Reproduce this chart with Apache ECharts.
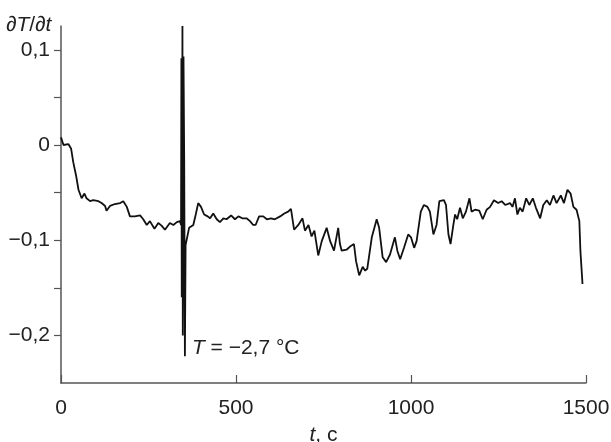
<!DOCTYPE html>
<html>
<head>
<meta charset="utf-8">
<script src="https://cdn.jsdelivr.net/npm/echarts@6/dist/echarts.min.js"></script>
<style>
html, body {margin: 0; padding: 0; background: #fff;}
#figure0 {width: 611px; height: 442px;}
</style>
</head>
<body>
<div id="figure0"></div>
<script>
// time, s
var tValues = [0, 4, 7, 21, 29, 35, 43, 50, 59, 67, 73, 83, 92, 107, 116, 126, 130, 140, 154, 169, 178, 188, 197, 211, 226, 235, 245, 254, 267, 278, 288, 297, 311, 321, 331, 340, 343,
    344, 345, 347, 348, 350, 352, 354, 356,
    366, 378, 385, 392, 400, 409, 419, 426, 435, 445, 454, 464, 473, 486, 497, 507, 518, 530, 540, 549, 556, 566, 578, 588, 600, 611, 626, 638, 649, 657,
    666, 678, 690, 697, 707, 716, 724, 735, 745, 759, 769, 780, 792, 797, 802, 816, 828, 837, 843, 852, 862, 869, 875, 888, 902, 909, 919, 929, 940, 954, 961, 969, 980, 992, 1000, 1009, 1016, 1028, 1037, 1047, 1054, 1064, 1073, 1081,
    1094, 1100, 1107, 1113, 1121, 1126, 1132, 1140, 1148, 1157, 1167, 1173, 1183, 1195, 1205, 1216, 1226, 1237, 1249, 1259, 1269, 1283, 1290, 1297, 1304, 1311, 1319, 1329, 1338, 1348, 1357, 1369, 1378, 1388, 1397, 1407, 1416, 1428, 1437, 1447, 1456, 1464, 1473, 1481, 1484, 1490];
// dT/dt
var rateValues = [0.008, 0.006, 0.0, 0.001, -0.004, -0.018, -0.032, -0.047, -0.056, -0.051, -0.056, -0.059, -0.058, -0.059, -0.061, -0.064, -0.069, -0.064, -0.062, -0.061, -0.059, -0.065, -0.075, -0.075, -0.074, -0.078, -0.084, -0.080, -0.088, -0.082, -0.085, -0.089, -0.082, -0.084, -0.081, -0.080, -0.084,
    0.091, -0.160, 0.125, -0.200, 0.093, -0.015, -0.222, -0.105,
    -0.087, -0.084, -0.073, -0.061, -0.065, -0.073, -0.075, -0.077, -0.072, -0.078, -0.081, -0.077, -0.078, -0.074, -0.078, -0.075, -0.077, -0.077, -0.080, -0.084, -0.084, -0.075, -0.075, -0.078, -0.077, -0.078, -0.075, -0.072, -0.070, -0.067,
    -0.089, -0.084, -0.077, -0.090, -0.084, -0.096, -0.090, -0.116, -0.101, -0.087, -0.101, -0.111, -0.087, -0.104, -0.111, -0.110, -0.106, -0.104, -0.122, -0.137, -0.128, -0.132, -0.130, -0.097, -0.078, -0.087, -0.118, -0.123, -0.115, -0.097, -0.111, -0.120, -0.108, -0.094, -0.097, -0.108, -0.101, -0.070, -0.063, -0.065, -0.070, -0.094, -0.084, -0.059,
    -0.058, -0.063, -0.094, -0.104, -0.084, -0.073, -0.078, -0.066, -0.077, -0.070, -0.056, -0.070, -0.068, -0.069, -0.078, -0.068, -0.065, -0.058, -0.061, -0.059, -0.063, -0.061, -0.065, -0.056, -0.073, -0.066, -0.070, -0.056, -0.063, -0.056, -0.066, -0.077, -0.063, -0.058, -0.063, -0.053, -0.061, -0.053, -0.061, -0.047, -0.051, -0.065, -0.068, -0.080, -0.111, -0.146];
var xTicks = [0, 500, 1000, 1500];
var yTickValues = [-0.2, -0.15, -0.1, -0.05, 0, 0.05, 0.1];
var yLabelValues = [-0.2, -0.1, 0, 0.1];
var annotPoint = [354, -0.222];

var font = "'Liberation Sans', Arial, sans-serif";
var axisColor = '#555';
var textColor = '#222';

var figure0 = echarts.init(document.getElementById('figure0'));
var lineData = [];
for (var i = 0; i < tValues.length; i++) {
    lineData.push([tValues[i], rateValues[i]]);
}
function richText(size) {
    return {
        i: {fontFamily: font, fontSize: size, fontStyle: 'italic', fontWeight: 'normal', color: textColor},
        n: {fontFamily: font, fontSize: size, fontWeight: 'normal', color: textColor}
    };
}
var option = {
    animation: false,
    title: {
        text: '{i|∂T}{n|/}{i|∂t}',
        left: 6,
        top: 15,
        padding: 0,
        textStyle: {fontWeight: 'normal', rich: richText(21)}
    },
    grid: {left: 61, right: 25, top: 26, bottom: 59, outerBoundsMode: 'none', containLabel: false},
    xAxis: {
        type: 'value',
        min: 0,
        max: 1500,
        interval: 500,
        name: '{i|t}{n|, c}',
        nameLocation: 'middle',
        nameGap: 42,
        nameTextStyle: {rich: richText(21)},
        splitLine: {show: false},
        axisLine: {onZero: false, lineStyle: {color: axisColor, width: 1.5}},
        axisTick: {inside: true, length: 8, lineStyle: {color: axisColor, width: 1.2}, customValues: xTicks},
        axisLabel: {
            margin: 15,
            fontFamily: font,
            fontSize: 21,
            color: textColor,
            customValues: xTicks,
            formatter: function (v) { return String(v); }
        }
    },
    yAxis: {
        type: 'value',
        min: -0.25,
        max: 0.125,
        interval: 0.05,
        splitLine: {show: false},
        axisLine: {show: true, onZero: false, lineStyle: {color: axisColor, width: 1.5}},
        axisTick: {show: true, length: 7, lineStyle: {color: axisColor, width: 1.2}, customValues: yTickValues},
        axisLabel: {
            margin: 11,
            fontFamily: font,
            fontSize: 21,
            color: textColor,
            customValues: yLabelValues,
            formatter: function (v) {
                var s = Math.abs(v) < 1e-9 ? '0' : Math.abs(v).toFixed(1).replace('.', ',');
                return v < -1e-9 ? '\u2212' + s : s;
            }
        }
    },
    series: [{
        type: 'line',
        data: lineData,
        showSymbol: false,
        symbol: 'none',
        lineStyle: {color: '#111', width: 1.8},
        markPoint: {
            symbol: 'circle',
            symbolSize: 0,
            data: [{coord: annotPoint}],
            label: {
                show: true,
                position: 'right',
                distance: 7,
                offset: [0, -8],
                formatter: '{i|T}{n| = \u22122,7 °C}',
                rich: richText(21)
            }
        }
    }]
};
figure0.setOption(option);
</script>
</body>
</html>
